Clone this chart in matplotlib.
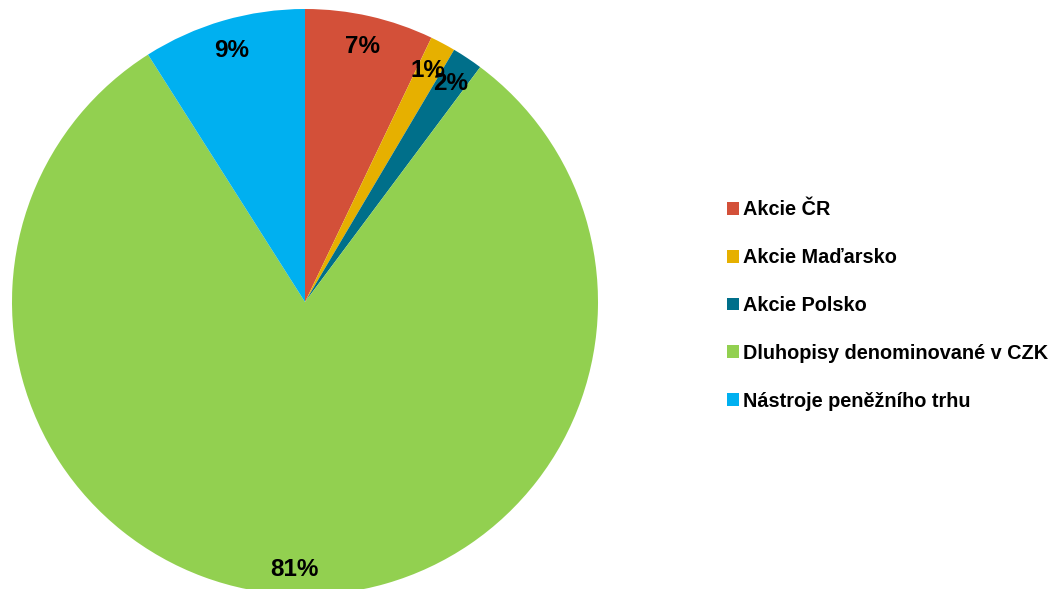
import numpy as np
import matplotlib.pyplot as plt

labels = ["Akcie ČR", "Akcie Maďarsko", "Akcie Polsko",
          "Dluhopisy denominované v CZK", "Nástroje peněžního trhu"]
values = [7.1, 1.4, 1.7, 80.8, 9.0]
colors = ["#D35039", "#E6B000", "#006F8A", "#92D050", "#00B0F0"]

plt.rcParams['font.family'] = ['Liberation Sans', 'DejaVu Sans']

W, H = 1058, 589
fig = plt.figure(figsize=(W / 100, H / 100), dpi=100)
ax = fig.add_axes([0, 0, 1, 1])

cx, cy, r = 305, H - 302, 293
wedges, texts, autotexts = ax.pie(
    values, colors=colors, startangle=90, counterclock=False,
    center=(cx, cy), radius=r,
    autopct=lambda p: "%.0f%%" % p, pctdistance=0.894,
    wedgeprops=dict(linewidth=0),
    textprops=dict(fontsize=17.5, fontweight='bold', color='black'))

# big slice label sits a bit closer to the rim
w = wedges[3]
mid = np.deg2rad((w.theta1 + w.theta2) / 2)
autotexts[3].set_position((cx + 0.915 * r * np.cos(mid), cy + 0.915 * r * np.sin(mid)))

ax.set_xlim(0, W)
ax.set_ylim(0, H)
ax.set_aspect('equal')
ax.axis('off')

leg = ax.legend(wedges, labels, loc='center left',
                bbox_to_anchor=(727 / W, 1 - 305.5 / H),
                bbox_transform=fig.transFigure,
                frameon=False, borderpad=0, borderaxespad=0,
                handlelength=0.6, handleheight=0.6, handletextpad=0.22,
                labelspacing=1.45,
                prop=dict(size=14.3, weight='bold'))

fig.savefig("out.png", dpi=100)
